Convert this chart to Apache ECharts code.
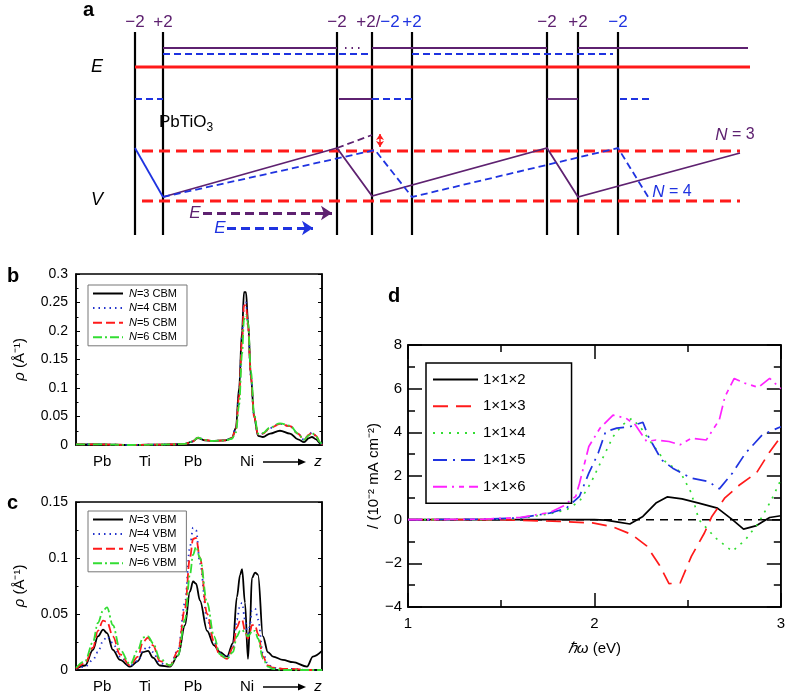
<!DOCTYPE html>
<html><head><meta charset="utf-8">
<script src="https://cdn.jsdelivr.net/npm/echarts@6/dist/echarts.min.js"></script>
<style>html,body{margin:0;padding:0;background:#fff}#c{width:788px;height:696px}</style>
</head><body><div id="c"></div>
<script>
// ===== Panel b: CBM density (z in arbitrary units 0..10) =====
const zB = [0, 0.98, 2.20, 3.01, 3.82, 4.43, 4.72, 4.96, 5.24, 5.53, 6.06, 6.34, 6.50, 6.63, 6.75, 6.83, 6.91, 6.99, 7.11, 7.24, 7.40, 7.60, 7.89, 8.29, 8.70, 9.02, 9.27, 9.47, 9.59, 9.76, 9.92, 10];
const bN3 = [0.001,0.001,0,0.0005,0.001,0.002,0.006,0.012,0.008,0.007,0.008,0.012,0.03,0.1,0.2,0.268,0.268,0.22,0.12,0.05,0.016,0.014,0.02,0.025,0.02,0.01,0.005,0.012,0.014,0.01,0.003,0];
const bN4 = [0.001,0.001,0,0.0005,0.001,0.002,0.006,0.013,0.009,0.007,0.008,0.012,0.03,0.09,0.19,0.25,0.25,0.21,0.12,0.05,0.018,0.02,0.03,0.037,0.033,0.02,0.009,0.018,0.022,0.016,0.005,0];
const bN5 = [0.001,0.001,0,0.0005,0.001,0.002,0.006,0.013,0.009,0.007,0.008,0.012,0.028,0.085,0.185,0.245,0.245,0.21,0.12,0.05,0.018,0.02,0.03,0.037,0.033,0.02,0.009,0.018,0.022,0.016,0.005,0];
const bN6 = [0.001,0.001,0,0.0005,0.001,0.002,0.006,0.013,0.009,0.007,0.008,0.011,0.022,0.07,0.16,0.22,0.228,0.215,0.13,0.055,0.02,0.021,0.031,0.038,0.034,0.02,0.009,0.017,0.021,0.015,0.005,0];

// ===== Panel c: VBM density =====
const zC = [0,0.37,0.69,0.89,1.10,1.26,1.50,1.79,2.20,2.52,2.72,2.93,3.13,3.41,3.82,4.15,4.43,4.63,4.76,4.88,5.04,5.33,5.61,5.85,6.14,6.38,6.54,6.67,6.75,6.87,6.99,7.07,7.15,7.28,7.40,7.60,7.80,8.01,8.41,8.82,9.39,9.63,10];
const cN3 = [0.001,0.004,0.018,0.03,0.036,0.033,0.018,0.009,0.003,0.008,0.016,0.017,0.011,0.004,0.003,0.013,0.04,0.07,0.079,0.077,0.062,0.035,0.022,0.016,0.012,0.024,0.065,0.085,0.09,0.06,0.01,0.04,0.082,0.087,0.085,0.03,0.016,0.012,0.009,0.007,0.003,0.012,0.017];
const cN4 = [0.001,0.003,0.009,0.016,0.026,0.03,0.024,0.012,0.004,0.008,0.018,0.021,0.016,0.006,0.004,0.018,0.06,0.11,0.127,0.125,0.095,0.045,0.025,0.015,0.011,0.02,0.045,0.058,0.06,0.045,0.03,0.04,0.053,0.055,0.045,0.015,0.005,0.002,0.001,0.001,0,0,0];
const cN5 = [0.001,0.006,0.02,0.035,0.044,0.043,0.03,0.014,0.004,0.012,0.025,0.029,0.022,0.008,0.004,0.017,0.055,0.1,0.117,0.118,0.1,0.05,0.025,0.013,0.01,0.02,0.038,0.044,0.045,0.035,0.028,0.034,0.04,0.04,0.032,0.012,0.004,0.002,0.001,0.001,0,0,0];
const cN6 = [0.002,0.008,0.025,0.042,0.053,0.056,0.04,0.018,0.005,0.018,0.029,0.03,0.024,0.01,0.004,0.013,0.045,0.085,0.103,0.11,0.1,0.06,0.03,0.014,0.01,0.016,0.03,0.035,0.036,0.033,0.03,0.032,0.035,0.035,0.028,0.01,0.003,0.001,0,0,0,0,0];

const zTickPos = [1.06, 2.8, 4.75, 6.95, 9.84];
const zTickText = ['Pb', 'Ti', 'Pb', 'Ni', 'z'];

// ===== Panel d: photocurrent vs photon energy =====
const dX2 = [1, 1.5, 2.0, 2.06, 2.12, 2.19, 2.26, 2.33, 2.39, 2.47, 2.56, 2.66, 2.74, 2.8, 2.87, 2.94, 3.0];
const dY2 = [0, 0, 0, -0.02, -0.1, -0.2, 0.15, 0.76, 1.04, 0.95, 0.76, 0.53, 0, -0.43, -0.27, 0.1, 0.18];
const dX3 = [1, 1.5, 1.81, 1.99, 2.1, 2.2, 2.28, 2.35, 2.4, 2.46, 2.52, 2.59, 2.63, 2.7, 2.78, 2.87, 2.94, 3.0];
const dY3 = [0, 0, -0.08, -0.15, -0.33, -0.68, -1.2, -2.1, -2.93, -2.9, -1.68, -0.61, 0.15, 1.0, 1.6, 2.15, 3.1, 3.8];
const dX4 = [1, 1.4, 1.6, 1.76, 1.85, 1.92, 1.98, 2.04, 2.1, 2.15, 2.2, 2.25, 2.29, 2.38, 2.44, 2.46, 2.52, 2.56, 2.65, 2.74, 2.81, 2.88, 2.95, 3.0];
const dY4 = [0, 0, 0.05, 0.27, 0.45, 0.84, 1.67, 2.74, 3.8, 4.34, 4.64, 4.2, 3.7, 2.66, 2.3, 2.2, 1.22, 0, -0.84, -1.45, -0.92, -0.15, 0.91, 1.83];
const dX5 = [1, 1.4, 1.6, 1.76, 1.85, 1.89, 1.92, 1.97, 2.02, 2.06, 2.12, 2.19, 2.26, 2.29, 2.36, 2.42, 2.52, 2.61, 2.67, 2.74, 2.81, 2.9, 3.0];
const dY5 = [0, 0.02, 0.08, 0.3, 0.53, 0.84, 1.07, 2.13, 3.04, 4.03, 4.19, 4.26, 4.46, 3.8, 2.74, 2.36, 1.9, 1.75, 1.41, 2.13, 3.04, 3.88, 4.26];
const dX6 = [1, 1.4, 1.6, 1.76, 1.83, 1.9, 1.92, 1.97, 2.03, 2.1, 2.17, 2.22, 2.28, 2.33, 2.4, 2.46, 2.52, 2.6, 2.67, 2.7, 2.75, 2.81, 2.88, 2.94, 3.0];
const dY6 = [0, 0.02, 0.1, 0.33, 0.61, 1.07, 1.67, 3.35, 4.19, 4.79, 4.64, 4.34, 3.58, 3.65, 3.58, 3.43, 3.73, 3.65, 4.57, 5.63, 6.47, 6.24, 6.06, 6.47, 6.0];
const dNames = ['1×1×2', '1×1×3', '1×1×4', '1×1×5', '1×1×6'];

// ===== Panel a: band-diagram schematic (position along z, energy) =====
const wallX = [0.5, 3.3, 20.7, 24.2, 28.2, 41.7, 44.8, 48.8];
const wallY = [0.5, 20.8];
const wallCharge = ['−2', '+2', '−2', '+2/−2', '+2', '−2', '+2', '−2'];
const wallChargeColor = ['P', 'P', 'P', 'PB', 'B', 'P', 'P', 'B'];
const levelTopP = 19.2, levelTopB = 18.6, levelE = 17.3, levelMid = 14.1, levelVhi = 8.9, levelVlo = 3.9;
const purpleTopX = [[3.3, 20.7], [24.2, 41.7], [44.8, 61.8]];
const purpleMidX = [[20.9, 24.2], [41.7, 44.8]];
const blueTopX = [[3.3, 24.2], [28.2, 48.3]];
const blueMidX = [[0.5, 3.3], [24.2, 28.2], [49, 52]];
const redE_X = [0.5, 62];
const redV_X = [1.2, 61];
const blueSolidPath = [[0.5, 9.2], [3.3, 4.3]];
const purpleSolidPath1 = [[3.3, 4.3], [20.7, 9.2]];
const purpleSolidPath2 = [[20.7, 9.2], [24.2, 4.4], [41.7, 9.2], [44.8, 4.3], [61, 8.7]];
const purpleDashPath = [[20.7, 9.2], [24.2, 10.5]];
const blueDashPath = [[3.3, 4.3], [24.5, 9.0], [28.2, 4.3], [48.8, 9.2], [52, 4.0]];
const fieldArrowP = [[7.3, 2.7], [20.2, 2.7]];
const fieldArrowB = [[9.7, 1.2], [18.3, 1.2]];
const offsetArrow = [[25, 10.6], [25, 9.3]];

const FF = '"Liberation Sans", Arial, Helvetica, sans-serif';
const P = '#5e2170', B = '#1f33e0', R = '#ff1a1a', G = '#33dd33', M = '#ff22ff';

const zip = (a, b) => a.map((v, i) => [v, b[i]]);

// --- panel a line items
const segs = [];
wallX.forEach(x => segs.push({coords: [[x, wallY[0]], [x, wallY[1]]], lineStyle: {color: '#000', width: 2.2, opacity: 1}}));
purpleTopX.forEach(s => segs.push({coords: [[s[0], levelTopP], [s[1], levelTopP]], lineStyle: {color: P, width: 1.8, opacity: 1}}));
segs.push({coords: [[21.5, levelTopP], [23.4, levelTopP]], lineStyle: {color: P, width: 1.8, type: [1.5, 5], opacity: 1}});
purpleMidX.forEach(s => segs.push({coords: [[s[0], levelMid], [s[1], levelMid]], lineStyle: {color: P, width: 1.8, opacity: 1}}));
blueTopX.forEach(s => segs.push({coords: [[s[0], levelTopB], [s[1], levelTopB]], lineStyle: {color: B, width: 1.8, type: [7, 4], opacity: 1}}));
blueMidX.forEach(s => segs.push({coords: [[s[0], levelMid], [s[1], levelMid]], lineStyle: {color: B, width: 1.8, type: [7, 4], opacity: 1}}));
segs.push({coords: [[redE_X[0], levelE], [redE_X[1], levelE]], lineStyle: {color: R, width: 3, opacity: 1}});
segs.push({coords: [[redV_X[0], levelVhi], [redV_X[1], levelVhi]], lineStyle: {color: R, width: 3, type: [11, 6], opacity: 1}});
segs.push({coords: [[redV_X[0], levelVlo], [redV_X[1], levelVlo]], lineStyle: {color: R, width: 3, type: [11, 6], opacity: 1}});
segs.push({coords: blueSolidPath, lineStyle: {color: B, width: 1.8, opacity: 1}});
segs.push({coords: purpleSolidPath1, lineStyle: {color: P, width: 1.8, opacity: 1}});
segs.push({coords: purpleSolidPath2, lineStyle: {color: P, width: 1.8, opacity: 1}});
segs.push({coords: purpleDashPath, lineStyle: {color: P, width: 1.8, type: [7, 4], opacity: 1}});
segs.push({coords: blueDashPath, lineStyle: {color: B, width: 1.8, type: [7, 4], opacity: 1}});

// --- panel a text
const aText = wallX.map((x, i) => {
  const c = wallChargeColor[i];
  let f;
  if (c === 'PB') f = '{p|+2/}{b|−2}';
  else f = '{' + (c === 'P' ? 'p' : 'b') + '|' + wallCharge[i] + '}';
  return {value: [x + (c === 'PB' ? 0.6 : 0), 21.8], label: {formatter: f}};
});
aText.push({value: [-3.3, levelE], label: {formatter: '{k|E}'}});
aText.push({value: [-3.3, 4.0], label: {formatter: '{k|V}'}});
aText.push({value: [5.6, 11.8], label: {formatter: '{n|PbTiO}{sub|3}'}});
aText.push({value: [60.5, 10.5], label: {formatter: '{pi|N}{p2| = 3}'}});
aText.push({value: [54.2, 4.8], label: {formatter: '{bi|N}{b2| = 4}'}});
aText.push({value: [6.5, 2.7], label: {formatter: '{pi|E}'}});
aText.push({value: [9.0, 1.2], label: {formatter: '{bi|E}'}});

const richA = {
  p: {color: P, fontSize: 17, fontFamily: FF},
  b: {color: B, fontSize: 17, fontFamily: FF},
  p2: {color: P, fontSize: 16, fontFamily: FF},
  b2: {color: B, fontSize: 16, fontFamily: FF},
  pi: {color: P, fontSize: 17, fontFamily: FF, fontStyle: 'italic'},
  bi: {color: B, fontSize: 17, fontFamily: FF, fontStyle: 'italic'},
  k: {color: '#000', fontSize: 18, fontFamily: FF, fontStyle: 'italic'},
  n: {color: '#000', fontSize: 17, fontFamily: FF},
  sub: {color: '#000', fontSize: 12, fontFamily: FF, padding: [11, 0, 0, 0]}
};

function zFmt(v) {
  let i = 0, best = 1e9;
  zTickPos.forEach((p, k) => { const d = Math.abs(p - v); if (d < best) { best = d; i = k; } });
  return zTickText[i] === 'z' ? '{i|z}' : zTickText[i];
}
const minusFmt = v => String(v).replace('-', '−');

const axBase = {
  axisLine: {show: true, onZero: false, lineStyle: {color: '#000', width: 1.5}},
  splitLine: {show: false},
  axisLabel: {color: '#000', fontFamily: FF}
};

const yRho = (grid, max, right) => Object.assign({}, axBase, {
  type: 'value', gridIndex: grid, min: 0, max: max, interval: 0.05, position: right ? 'right' : 'left',
  axisTick: {show: true, inside: true, length: 4, lineStyle: {color: '#000', width: 1}},
  minorTick: {show: true, splitNumber: 2, length: 2.5, lineStyle: {color: '#000', width: 1}},
  axisLabel: {show: !right, color: '#000', fontFamily: FF, fontSize: 14, margin: 8},
  name: right ? '' : '{i|ρ} (Å⁻¹)', nameLocation: 'middle', nameRotate: 90, nameGap: 49,
  nameTextStyle: {fontSize: 15, fontFamily: FF, color: '#000', rich: {i: {fontStyle: 'italic', fontSize: 15, fontFamily: FF}}}
});

const xZ = (grid) => Object.assign({}, axBase, {
  type: 'value', gridIndex: grid, min: 0, max: 10,
  axisTick: {show: false},
  axisLabel: {show: true, customValues: zTickPos, formatter: zFmt, color: '#000', fontFamily: FF, fontSize: 15, margin: 9,
    rich: {i: {fontStyle: 'italic', fontSize: 15, fontFamily: FF}}}
});

const lineS = (name, xi, yi, data, color, type, width, smooth) => ({
  name: name, type: 'line', xAxisIndex: xi, yAxisIndex: yi, data: data,
  showSymbol: false, symbol: 'circle', smooth: smooth, smoothMonotone: smooth ? 'x' : undefined,
  lineStyle: {color: color, width: width, type: type}, itemStyle: {color: color}, silent: true, z: 3
});

const bNames = ['N=3 CBM', 'N=4 CBM', 'N=5 CBM', 'N=6 CBM'];
const cNames = ['N=3 VBM', 'N=4 VBM', 'N=5 VBM', 'N=6 VBM'];
const stylesBC = [['#000', 'solid'], ['#2233cc', [1.5, 4]], [R, [9, 4]], [G, [9, 3, 2, 3]]];
const stylesD = [['#000', 'solid'], [R, [15, 8]], [G, [2, 6]], [B, [14, 6, 2, 6]], [M, [14, 5, 2, 5, 5, 5]]];

const series = [];
series.push({type: 'lines', coordinateSystem: 'cartesian2d', xAxisIndex: 0, yAxisIndex: 0, polyline: true, silent: true,
  data: segs, lineStyle: {opacity: 1}});
series.push({type: 'lines', coordinateSystem: 'cartesian2d', xAxisIndex: 0, yAxisIndex: 0, silent: true,
  symbol: ['none', 'arrow'], symbolSize: 11, lineStyle: {opacity: 1},
  data: [{coords: fieldArrowP, lineStyle: {color: P, width: 3, type: [9, 5], opacity: 1}}, {coords: fieldArrowB, lineStyle: {color: B, width: 3, type: [9, 5], opacity: 1}}]});
series.push({type: 'lines', coordinateSystem: 'cartesian2d', xAxisIndex: 0, yAxisIndex: 0, silent: true,
  symbol: ['arrow', 'arrow'], symbolSize: 6, lineStyle: {opacity: 1},
  data: [{coords: offsetArrow, lineStyle: {color: R, width: 1.5, opacity: 1}}]});
series.push({type: 'scatter', xAxisIndex: 0, yAxisIndex: 0, symbolSize: 0, silent: true, data: aText,
  itemStyle: {opacity: 1},
  label: {show: true, position: 'inside', rich: richA}});

[bN3, bN4, bN5, bN6].forEach((arr, i) => series.push(lineS(bNames[i], 1, 1, zip(zB, arr), stylesBC[i][0], stylesBC[i][1], 1.8, 0.35)));
[cN3, cN4, cN5, cN6].forEach((arr, i) => series.push(lineS(cNames[i], 2, 3, zip(zC, arr), stylesBC[i][0], stylesBC[i][1], 1.8, 0.35)));
series.push({type: 'line', xAxisIndex: 3, yAxisIndex: 5, data: [[1, 0], [3, 0]], showSymbol: false, silent: true,
  lineStyle: {color: '#000', width: 1.5, type: [8, 6]}, z: 2});
[[dX2, dY2], [dX3, dY3], [dX4, dY4], [dX5, dY5], [dX6, dY6]].forEach((p, i) =>
  series.push(lineS(dNames[i], 3, 5, zip(p[0], p[1]), stylesD[i][0], stylesD[i][1], 1.7, false)));

const legBC = (names, top) => ({
  data: names, orient: 'vertical', left: 88, top: top, itemWidth: 30, itemHeight: 10, itemGap: 3.6,
  padding: [3, 10, 3, 4], borderColor: '#777', borderWidth: 1, selectedMode: false,
  itemStyle: {opacity: 0},
  textStyle: {fontSize: 11, fontFamily: FF, color: '#000', padding: [0, 0, 0, 1], rich: {i: {fontStyle: 'italic', fontSize: 11, fontFamily: FF}, t: {fontSize: 11, fontFamily: FF}}},
  formatter: n => '{i|N}{t|' + n.slice(1) + '}'
});

const dTick = {inside: true, length: 14, lineStyle: {color: '#000', width: 1.5}};
const dMinor = {show: true, splitNumber: 2, length: 7, lineStyle: {color: '#000', width: 1.5}};

const option = {
  animation: false,
  backgroundColor: '#fff',
  textStyle: {fontFamily: FF},
  grid: [
    {left: 80, top: 10, width: 670, height: 230, show: false},
    {left: 76, top: 274, width: 246, height: 171, show: true, borderColor: '#000', borderWidth: 1.5},
    {left: 76, top: 502, width: 246, height: 168, show: true, borderColor: '#000', borderWidth: 1.5},
    {left: 408, top: 345, width: 374, height: 262, show: true, borderColor: '#000', borderWidth: 1.5}
  ],
  xAxis: [
    {type: 'value', gridIndex: 0, min: -5, max: 62, show: false},
    xZ(1),
    xZ(2),
    Object.assign({}, axBase, {type: 'value', gridIndex: 3, min: 1, max: 3, interval: 1, position: 'bottom',
      axisTick: dTick, minorTick: dMinor,
      axisLabel: {color: '#000', fontFamily: FF, fontSize: 15, margin: 9},
      name: '{i|ℏω} (eV)', nameLocation: 'middle', nameGap: 34,
      nameTextStyle: {fontSize: 15, fontFamily: FF, color: '#000', rich: {i: {fontStyle: 'italic', fontSize: 15, fontFamily: FF}}}}),
    Object.assign({}, axBase, {type: 'value', gridIndex: 3, min: 1, max: 3, interval: 1, position: 'top',
      axisTick: dTick, minorTick: dMinor, axisLabel: {show: false}})
  ],
  yAxis: [
    {type: 'value', gridIndex: 0, min: 0, max: 23, show: false},
    yRho(1, 0.3, false),
    yRho(1, 0.3, true),
    yRho(2, 0.15, false),
    yRho(2, 0.15, true),
    Object.assign({}, axBase, {type: 'value', gridIndex: 3, min: -4, max: 8, interval: 2, position: 'left',
      axisTick: dTick, minorTick: dMinor,
      axisLabel: {color: '#000', fontFamily: FF, fontSize: 15, margin: 6, formatter: minusFmt},
      name: '/ (10⁻² mA cm⁻²)', nameLocation: 'middle', nameRotate: 90, nameGap: 27,
      nameTextStyle: {fontSize: 15, fontFamily: FF, color: '#000'}}),
    Object.assign({}, axBase, {type: 'value', gridIndex: 3, min: -4, max: 8, interval: 2, position: 'right',
      axisTick: dTick, minorTick: dMinor, axisLabel: {show: false}})
  ],
  legend: [
    legBC(bNames, 285),
    legBC(cNames, 511),
    {data: dNames, orient: 'vertical', left: 426, top: 363, itemWidth: 45, itemHeight: 14, itemGap: 11.8,
      padding: [9, 46, 9, 6], borderColor: '#000', borderWidth: 1.5, selectedMode: false,
      itemStyle: {opacity: 0},
      textStyle: {fontSize: 15, fontFamily: FF, color: '#000'}}
  ],
  graphic: [
    {type: 'text', left: 83, top: 0, style: {text: 'a', font: 'bold 20px ' + FF, fill: '#000'}},
    {type: 'text', left: 7, top: 266, style: {text: 'b', font: 'bold 20px ' + FF, fill: '#000'}},
    {type: 'text', left: 7, top: 493, style: {text: 'c', font: 'bold 20px ' + FF, fill: '#000'}},
    {type: 'text', left: 388, top: 286, style: {text: 'd', font: 'bold 20px ' + FF, fill: '#000'}},
    {type: 'polyline', shape: {points: [[263, 462], [300, 462]]}, style: {stroke: '#000', lineWidth: 1.5}},
    {type: 'polygon', shape: {points: [[306, 462], [298, 458.5], [298, 465.5]]}, style: {fill: '#000'}},
    {type: 'polyline', shape: {points: [[263, 687], [300, 687]]}, style: {stroke: '#000', lineWidth: 1.5}},
    {type: 'polygon', shape: {points: [[306, 687], [298, 683.5], [298, 690.5]]}, style: {fill: '#000'}}
  ],
  series: series
};
const chart = echarts.init(document.getElementById('c'), null, {renderer: 'canvas'});
chart.setOption(option);
</script></body></html>
